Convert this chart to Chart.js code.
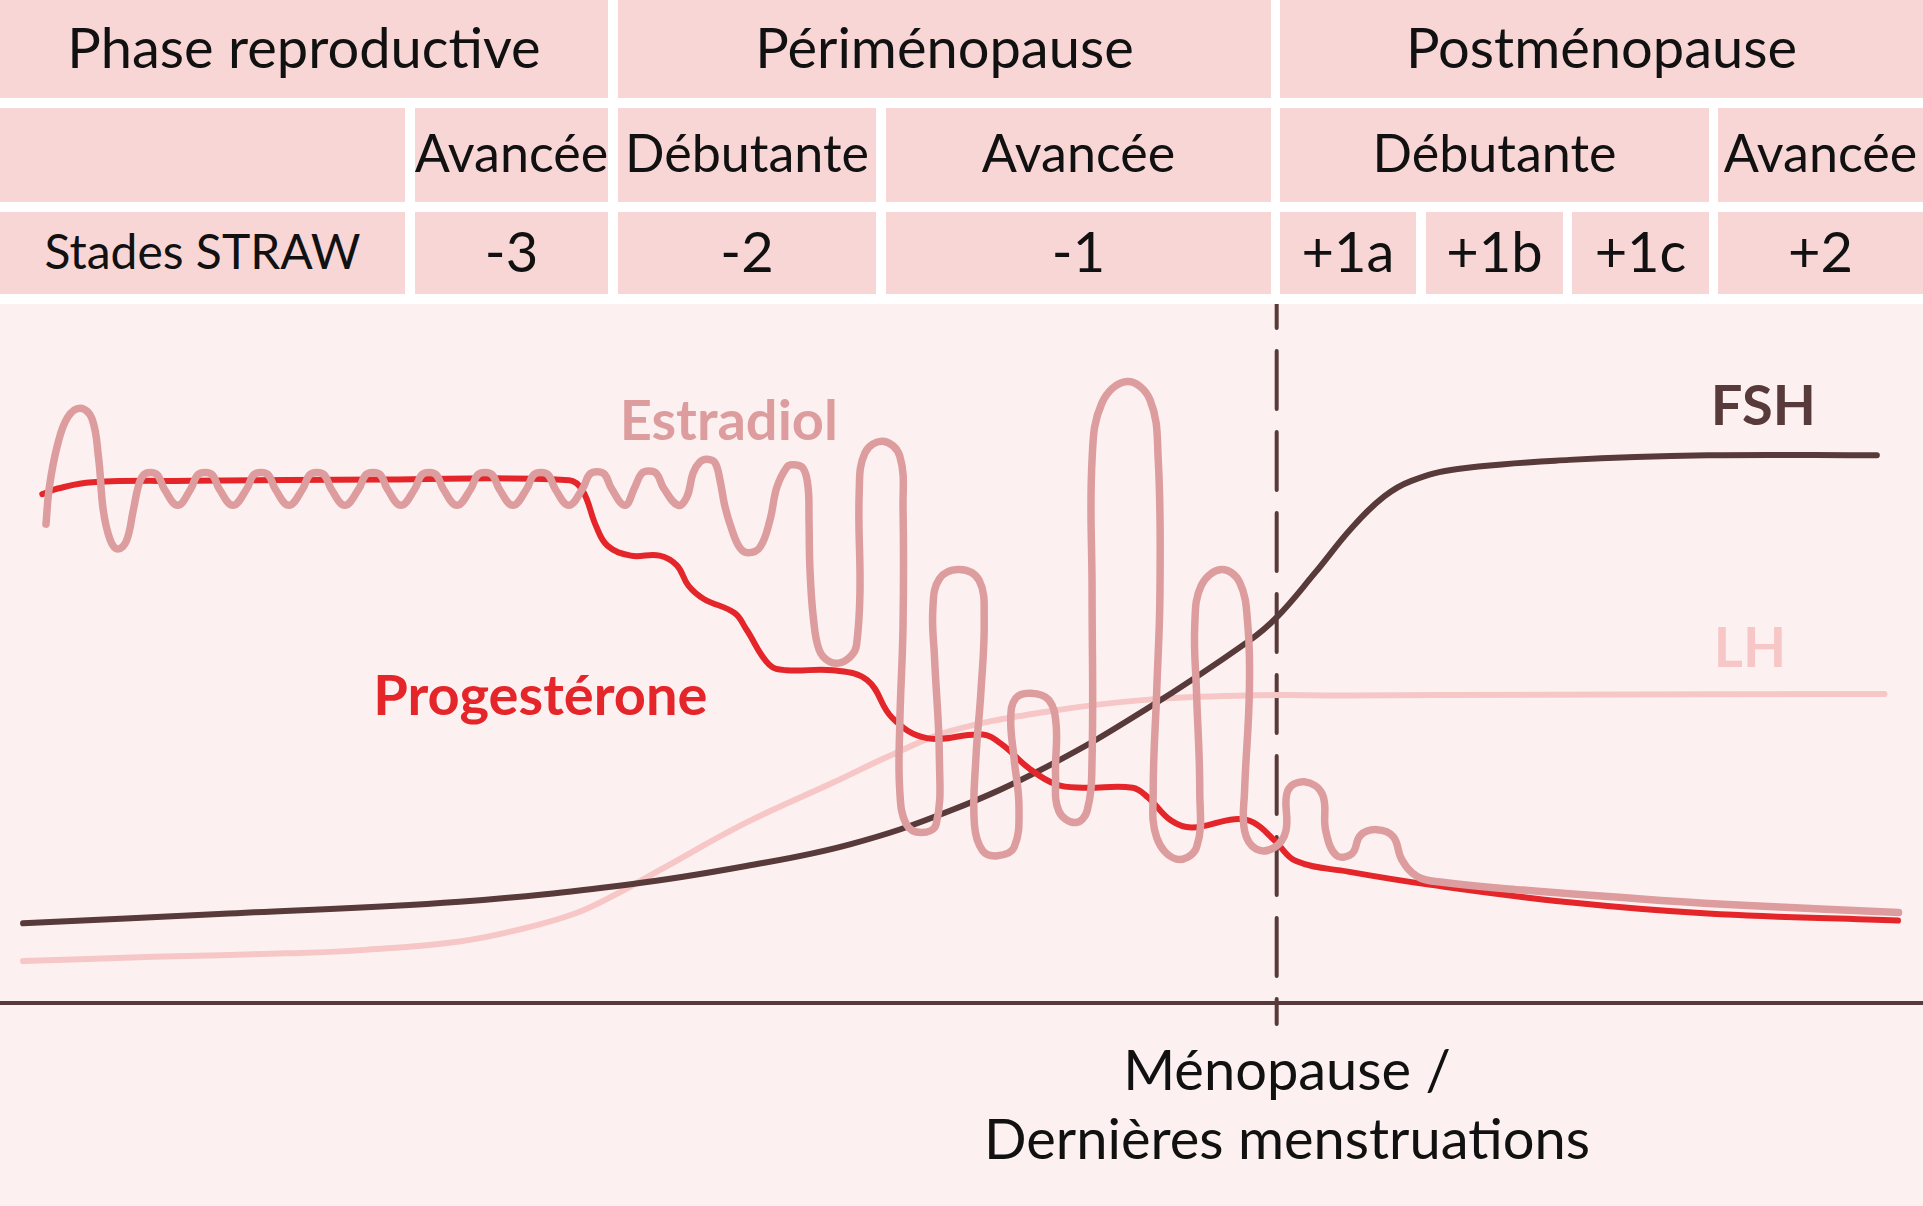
<!DOCTYPE html>
<html lang="fr">
<head>
<meta charset="utf-8">
<title>Stades STRAW et hormones</title>
<script src="https://cdn.jsdelivr.net/npm/chart.js@4.4.1/dist/chart.umd.min.js"></script>
<style>
  body { margin: 0; background: #fff; font-family: Lato, 'Noto Sans', sans-serif; }
  #page { position: relative; width: 1923px; height: 1206px; overflow: hidden; background: #fff; }
  .cell { position: absolute; box-sizing: border-box; padding-bottom: 6px; background: #f9d6d6; color: #111;
          display: flex; align-items: center; justify-content: center; white-space: nowrap; font-size: 56px; }
  #plot { position: absolute; left: 0; top: 304px; width: 1923px; height: 902px; background: #fcf1f0; }
  .tag { position: absolute; font-weight: 700; font-size: 56px; line-height: 1; white-space: nowrap;
         transform: translate(-50%, -50%); }
  #caption { position: absolute; left: 887px; width: 800px; top: 1034px; text-align: center; white-space: nowrap;
             font-size: 56px; line-height: 69px; color: #111; }
</style>
</head>
<body>
<div id="page">
  <canvas id="plot" width="1923" height="902"></canvas>
  <div id="caption">Ménopause /<br>Dernières menstruations</div>
</div>
<script>
// Table text
const phases = ['Phase reproductive', 'Périménopause', 'Postménopause'];
const subPhases = ['', 'Avancée', 'Débutante', 'Avancée', 'Débutante', 'Avancée'];
const strawStages = ['Stades STRAW', '-3', '-2', '-1', '+1a', '+1b', '+1c', '+2'];

// Hormone curves (x = time in % of the span, y = relative level)
const fshX = [1.2, 11.9, 23.9, 32.8, 38.8, 44.2, 49.4, 54.5, 59.7, 64.9, 66.4, 68.4, 70.3, 72.0, 73.4, 75.8, 81.6, 88.8, 97.6];
const fshY = [11.4, 12.8, 14.5, 17.0, 19.6, 22.7, 27.5, 33.9, 42.2, 51.7, 55.2, 61.6, 68.0, 72.5, 74.7, 76.4, 77.7, 78.35, 78.35];

const lhX = [1.2, 8.0, 14.9, 19.0, 23.9, 27.0, 29.9, 32.0, 34.3, 38.8, 43.3, 46.3, 49.4, 54.5, 59.7, 64.9, 70.1, 80.0, 98.0];
const lhY = [6.0, 6.6, 7.1, 7.6, 8.8, 10.5, 12.8, 15.5, 19.0, 25.8, 31.5, 35.4, 38.9, 41.7, 43.4, 44.0, 44.0, 44.1, 44.2];

const progX = [2.2, 3.0, 4.8, 10, 20, 29.6, 30.3, 31.0, 31.6, 32.8, 34.3, 35.2, 35.8, 36.6, 38.2, 38.8, 40.0, 40.9, 43.3, 45.1,
               46.4, 48.2, 51.1, 52.1, 53.5, 54.9, 56.3, 58.9, 59.7, 60.9, 62.0, 64.2, 65.2, 66.3, 67.4, 70.1, 74.4, 81.6, 88.8, 98.7];
const progY = [72.8, 73.6, 74.5, 74.7, 74.9, 74.8, 73.3, 68.2, 65.4, 64.0, 64.0, 62.6, 59.7, 57.8, 55.8, 53.5, 48.4, 47.6, 47.6, 46.2,
               40.8, 37.9, 38.4, 37.0, 33.6, 31.3, 30.8, 30.8, 29.4, 26.1, 25.1, 26.3, 25.8, 23.2, 20.3, 18.8, 16.9, 14.4, 12.8, 11.8];

const estrX = [2.39, 2.57, 2.99, 3.52, 4.18, 4.78, 5.13, 5.37, 5.73, 6.12, 6.57, 6.93, 7.2, 7.45, 7.8, 8.2, 8.55, 9.24,
               9.91, 10.26, 10.66, 11.06, 11.41, 12.11,
               12.82, 13.17, 13.57, 13.97, 14.32, 15.02,
               15.73, 16.08, 16.48, 16.88, 17.23, 17.93,
               18.65, 19.00, 19.40, 19.80, 20.15, 20.85,
               21.56, 21.91, 22.31, 22.71, 23.06, 23.76,
               24.47, 24.82, 25.22, 25.62, 25.97, 26.67,
               27.38, 27.73, 28.13, 28.53, 28.88, 29.58,
               30.30, 30.65, 31.05, 31.45, 31.80, 32.50,
               33.00, 33.35, 33.75, 34.15, 34.50, 35.26,
               35.72, 36.04, 36.40, 36.76, 37.18, 37.44, 37.70, 38.06, 38.48, 38.90,
               39.52, 40.04, 40.40, 40.93, 41.24, 41.76, 42.02, 42.07, 42.12, 42.30, 42.60, 43.10, 43.73, 44.3,
               44.54, 44.72, 44.68, 44.98, 45.92, 46.79, 46.96, 46.96, 46.79, 46.79, 47.13, 47.91, 48.68, 48.85,
               48.60, 48.51, 48.85, 49.89, 50.92, 51.18, 51.01, 50.75, 50.67, 51.10, 51.87, 52.73, 52.99, 52.73,
               52.56, 52.82, 53.60, 54.54, 54.92, 54.89, 55.06, 55.92, 56.53, 56.79, 56.79, 56.79, 57.30, 58.60,
               59.80, 60.23, 60.32, 60.15, 59.97, 60.15, 61.18, 62.22, 62.39, 62.22, 62.13, 62.47, 63.51, 64.46,
               64.89, 64.97, 64.72, 64.72, 65.32, 66.27, 66.87, 66.96, 67.82, 68.77, 68.94, 69.5,
               70.31, 70.75, 71.6, 72.45, 72.9, 73.7, 74.9, 79.19, 86.38, 91.18, 98.73];
const estrY = [68.51, 73.89, 79.83, 83.79, 85.09, 83.62, 77.85, 70.49, 66.25, 64.95, 66.08, 70.5, 74.0, 75.5, 75.9, 75.5, 73.5, 71.2,
               73.5, 75.5, 75.9, 75.5, 73.5, 71.2,
               73.5, 75.5, 75.9, 75.5, 73.5, 71.2,
               73.5, 75.5, 75.9, 75.5, 73.5, 71.2,
               73.5, 75.5, 75.9, 75.5, 73.5, 71.2,
               73.5, 75.5, 75.9, 75.5, 73.5, 71.2,
               73.5, 75.5, 75.9, 75.5, 73.5, 71.2,
               73.5, 75.5, 75.9, 75.5, 73.5, 71.2,
               73.6, 75.6, 76.0, 75.6, 73.6, 71.2,
               73.7, 75.7, 76.1, 75.7, 73.7, 71.2,
               72.4, 75.8, 77.4, 77.8, 77.3, 74.8, 71.0, 67.7, 65.1, 64.4,
               65.2, 69.1, 73.8, 76.7, 77.0, 76.5, 73.8, 69.1, 62.0, 55.0, 50.5, 48.9, 48.7, 49.8,
               51.19, 58.78, 73.01, 78.71, 80.37, 78.23, 70.64, 54.04, 39.81, 30.32, 25.57, 24.39, 25.57, 35.06,
               49.29, 56.41, 60.68, 62.01, 60.44, 54.99, 44.55, 35.06, 25.57, 21.78, 21.07, 22.25, 27.95, 35.06,
               40.76, 43.60, 44.31, 43.36, 39.81, 32.69, 27.47, 25.81, 27.47, 35.06, 58.78, 77.76, 85.82, 88.91,
               86.30, 77.76, 58.78, 44.55, 30.32, 23.68, 20.59, 22.25, 30.32, 44.55, 54.04, 59.73, 62.01, 60.20,
               54.04, 44.55, 30.32, 24.63, 22.02, 22.25, 24.63, 30.32, 31.65, 29.84, 24.63, 21.1,
               21.38, 24.0, 24.8, 23.8, 20.5, 18.1, 17.3, 16.15, 14.68, 13.91, 12.95];

const menopauseX = 66.39;
const seriesNames = ['Estradiol', 'Progestérone', 'FSH', 'LH'];

// Layout of the header table (pixels)
const rowBands = [[0, 98], [108, 202], [212, 294]];
const rowCols = [
  [[0, 608], [618, 1271], [1280, 1923]],
  [[0, 405], [415, 608], [618, 876], [886, 1271], [1280, 1709], [1718, 1923]],
  [[0, 405], [415, 608], [618, 876], [886, 1271], [1280, 1416], [1426, 1563], [1572, 1709], [1718, 1923]]
];
const rowFont = [56, 52, 56];
const tagAnchors = [[37.9, 83.5], [28.1, 44.2], [91.7, 85.7], [91.0, 51.1]];
const colors = { estr: '#dd9d9e', prog: '#e4262a', fsh: '#573a39', lh: '#f7c7c7' };

function buildTable() {
  const page = document.getElementById('page');
  [phases, subPhases, strawStages].forEach((texts, r) => {
    texts.forEach((t, c) => {
      const d = document.createElement('div');
      d.className = 'cell';
      const [x0, x1] = rowCols[r][c];
      d.style.left = x0 + 'px';
      d.style.width = (x1 - x0) + 'px';
      d.style.top = rowBands[r][0] + 'px';
      d.style.height = (rowBands[r][1] - rowBands[r][0]) + 'px';
      d.style.fontSize = (r === 2 && c === 0 ? 48 : rowFont[r]) + 'px';
      d.textContent = t;
      page.appendChild(d);
    });
  });
}

function pts(xs, ys) {
  return xs.map((x, i) => ({ x: x, y: ys[i] }));
}

// Axis line and dashed menopause marker
const guides = {
  id: 'guides',
  beforeDatasetsDraw(chart) {
    const ctx = chart.ctx;
    const x = chart.scales.x, y = chart.scales.y;
    const y0 = y.getPixelForValue(0);
    ctx.save();
    ctx.strokeStyle = colors.fsh;
    ctx.lineWidth = 4;
    ctx.beginPath();
    ctx.moveTo(0, y0);
    ctx.lineTo(chart.width, y0);
    ctx.stroke();
    const mx = x.getPixelForValue(menopauseX);
    ctx.setLineDash([58, 23]);
    ctx.lineDashOffset = 34;
    ctx.lineCap = 'round';
    ctx.beginPath();
    ctx.moveTo(mx, y.getPixelForValue(100));
    ctx.lineTo(mx, y0 + 21);
    ctx.stroke();
    ctx.restore();
  }
};

function line(label, data, color, width) {
  return {
    label: label, data: data, borderColor: color, borderWidth: width, showLine: true,
    pointRadius: 0, tension: 0.4, borderCapStyle: 'round', borderJoinStyle: 'round', fill: false
  };
}

function placeTags(chart) {
  const page = document.getElementById('page');
  const top = document.getElementById('plot').offsetTop;
  const tagColors = [colors.estr, colors.prog, colors.fsh, colors.lh];
  seriesNames.forEach((name, i) => {
    const d = document.createElement('div');
    d.className = 'tag';
    d.textContent = name;
    d.style.color = tagColors[i];
    d.style.left = chart.scales.x.getPixelForValue(tagAnchors[i][0]) + 'px';
    d.style.top = (top + chart.scales.y.getPixelForValue(tagAnchors[i][1])) + 'px';
    page.appendChild(d);
  });
}

window.onload = () => {
  buildTable();
  const ctx = document.getElementById('plot').getContext('2d');
  const chart = new Chart(ctx, {
    type: 'scatter',
    data: {
      datasets: [
        line('Estradiol', pts(estrX, estrY), colors.estr, 7.5),
        line('Progestérone', pts(progX, progY), colors.prog, 6),
        line('FSH', pts(fshX, fshY), colors.fsh, 6),
        line('LH', pts(lhX, lhY), colors.lh, 6)
      ]
    },
    options: {
      responsive: false,
      devicePixelRatio: 1,
      animation: false,
      layout: { padding: { top: 0, left: 0, right: 0, bottom: 203 } },
      plugins: { legend: { display: false }, tooltip: { enabled: false } },
      scales: {
        x: { type: 'linear', min: 0, max: 100, display: false },
        y: { type: 'linear', min: 0, max: 100, display: false }
      }
    },
    plugins: [guides]
  });
  placeTags(chart);
};
</script>
</body>
</html>
